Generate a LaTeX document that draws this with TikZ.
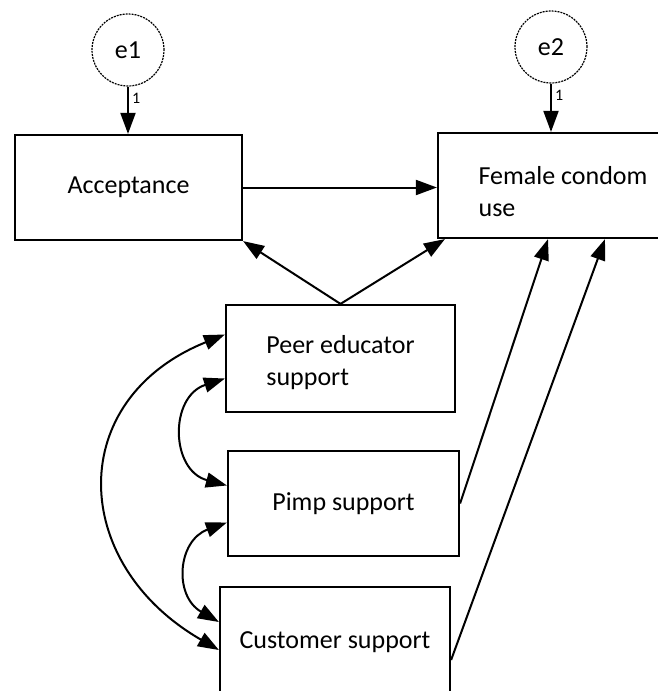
\documentclass[tikz,border=0pt]{standalone}
\usepackage{fontspec}
\setmainfont{Carlito}
\usetikzlibrary{arrows.meta}
\newcommand{\boxFont}{\fontsize{26}{32}\selectfont}
\newcommand{\tipStyle}{Triangle[length=21pt,width=15pt]}

\begin{document}
\begin{tikzpicture}[%
  x=1pt,y=-1pt,
  boxStyle/.style={draw,line width=2.2pt,inner sep=0pt,align=left,font=\boxFont},
  errStyle/.style={draw,circle,dash pattern=on 2pt off 1pt,line width=1.2pt,minimum size=72pt,inner sep=0pt,font=\boxFont},
  lineStyle/.style={-{\tipStyle},line width=2pt},
  covStyle/.style={{\tipStyle}-{\tipStyle},line width=2pt},
  oneStyle/.style={font=\fontsize{16}{16}\selectfont,right,inner sep=3pt}
]
%
%
\useasboundingbox (0,0) rectangle (658,691);
\clip (0,0) rectangle (658,691);
%
% The error terms.
\node[errStyle] (e1) at (128,50) {e1};
\node[errStyle] (e2) at (551,47) {e2};
% The observed variables.
\node[boxStyle,minimum width=227pt,minimum height=105pt] (accept) at (128.5,187.5) {Acceptance};
\node[boxStyle,minimum width=250pt,minimum height=105pt] (condom) at (563,185.5) {\rule{0pt}{30pt}Female condom\\use};
\node[boxStyle,minimum width=229pt,minimum height=107pt] (peer) at (340.5,358.5) {\rule{0pt}{26pt}Peer educator\\support};
\node[boxStyle,minimum width=231pt,minimum height=105pt] (pimp) at (343.5,503.5) {Pimp support};
\node[boxStyle,minimum width=230pt,minimum height=110pt] (customer) at (335,642) {Customer support};
%
% Error paths, fixed to 1.
\draw[lineStyle] (e1) -- node[oneStyle,pos=0.25] {1} (e1 |- accept.north);
\draw[lineStyle] (e2) -- node[oneStyle,pos=0.25] {1} (e2 |- condom.north);
% Regression paths.
\draw[lineStyle] (accept.east) -- (accept.east -| condom.west);
\draw[lineStyle] (peer.north) -- (accept.south east);
\draw[lineStyle] (peer.north) -- ([xshift=8pt]condom.south west);
\draw[lineStyle] (pimp.east) -- ([xshift=-15pt]condom.south);
\draw[lineStyle] ([yshift=-18pt]customer.east) -- ([xshift=42pt]condom.south);
% Covariances.  Drawn on the left side.
\draw[covStyle] ([yshift=-20pt]peer.west) to[out=198,in=165,looseness=1.4] ([yshift=18pt]pimp.west);
\draw[covStyle] ([yshift=-19pt]pimp.west) to[out=200,in=150,looseness=1.35] ([yshift=20pt]customer.west);
\draw[covStyle] ([yshift=24pt]peer.west) to[out=202,in=150,looseness=1.4] ([yshift=-8pt]customer.west);
\end{tikzpicture}
\end{document}
